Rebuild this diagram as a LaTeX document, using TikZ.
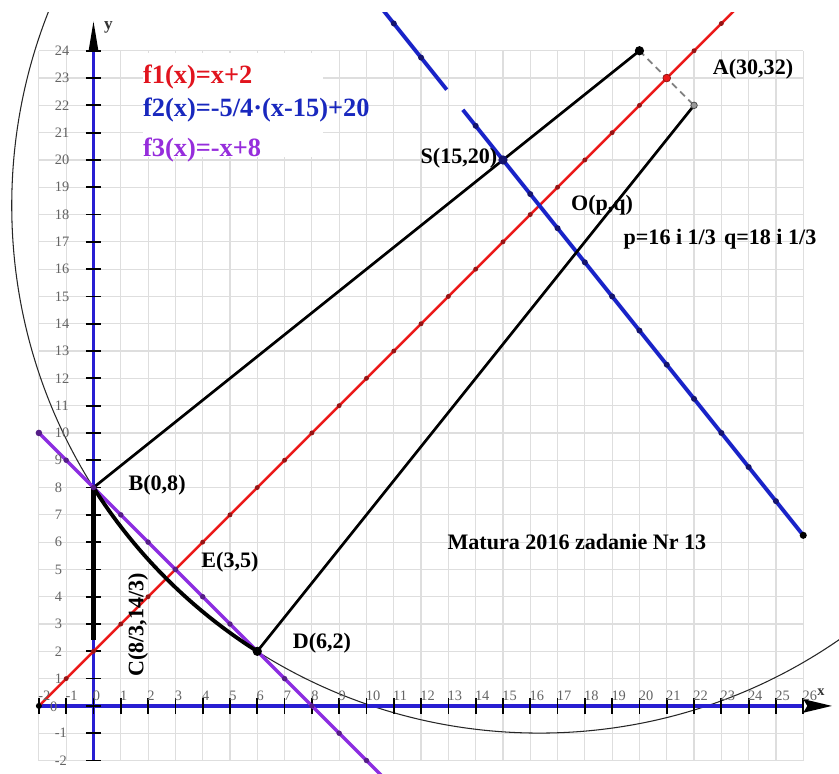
\documentclass[tikz,border=0pt]{standalone}
\usepackage{fontspec}
\setmainfont{Liberation Serif}
\definecolor{axblue}{RGB}{40,30,210}
\definecolor{fblue}{RGB}{25,35,200}
\definecolor{fred}{RGB}{235,25,25}
\definecolor{fpurple}{RGB}{140,45,225}
\definecolor{gridc}{RGB}{222,222,222}
\definecolor{numc}{RGB}{100,100,100}
\definecolor{dred}{RGB}{150,20,20}
\definecolor{dblue}{RGB}{20,20,110}
\definecolor{dpurple}{RGB}{85,30,135}
\definecolor{legred}{RGB}{225,20,30}
\definecolor{legblue}{RGB}{25,40,190}
\definecolor{legpurple}{RGB}{150,45,220}
\begin{document}
\begin{tikzpicture}[x=1cm,y=1cm,
  numlab/.style={font=\fontsize{15}{15}\selectfont, text=numc, inner sep=0pt},
  ptlab/.style={font=\fontsize{23}{23}\selectfont\bfseries, inner sep=0pt},
  leglab/.style={font=\fontsize{27.5}{27.5}\selectfont\bfseries, inner sep=0pt, anchor=west},
  tickmark/.style={black, line width=1.8pt},
  axline/.style={axblue, line width=4pt},
  blackline/.style={black, line width=2.8pt}
]
\useasboundingbox (-3.425,-2.49) rectangle (27.31,25.86);
\fill[white] (-3.425,-2.49) rectangle (27.31,25.86);
% named points
\coordinate (O) at (16.3333,18.3333);
\coordinate (B) at (0,8);
\coordinate (D) at (6,2);
\coordinate (S) at (15,20);
\coordinate (E) at (3,5);
\coordinate (P) at (20,24);
\coordinate (Q) at (22,22);
\coordinate (R) at (21,23);
\coordinate (Bend) at (0,2.4);
\coordinate (F2end) at (26,6.25);
% grid
\draw[gridc, line width=1.2pt] (-2,-2) grid (26,24);
\fill[white] (1.8,20.1) rectangle (8.4,23.93);
\begin{scope}
\clip (-3.425,-2.49) rectangle (27.31,25.4);
% circle
\draw[black!85, line width=1.1pt] (O) circle[radius=19.328];
% axes
\draw[axline] (-2,0) -- (26,0);
\draw[axline] (0,-2) -- (0,24);
\foreach \i in {-2,...,26} \draw[tickmark] (\i,-0.28) -- (\i,0.28);
\foreach \j in {-2,...,24} \draw[tickmark] (-0.28,\j) -- (0.28,\j);
% functions
\draw[fred, line width=2.6pt] (-2,0) -- (24,26);
\draw[fpurple, line width=3.6pt] (-2,10) -- (10.7,-2.7);
\draw[fblue, line width=4pt] (10.2,26) -- (12.94,22.575);
\draw[fblue, line width=4pt] (13.53,21.8375) -- (F2end);
% black figure
\draw[black, line width=5pt] (B) -- (Bend);
\draw[black, line width=4pt] (B) arc[start angle=212.322, end angle=237.678, radius=19.328];
\draw[blackline] (B) -- (P);
\draw[blackline] (D) -- (Q);
\draw[gray, line width=1.8pt, dash pattern=on 7pt off 5pt] (P) -- (Q);
% dots
\foreach \i in {-1,...,23} \fill[dred] (\i,\i+2) circle[radius=0.09];
\fill[black] (-2,0) circle[radius=0.11];
\foreach \i in {-1,...,10} \fill[dpurple] (\i,8-\i) circle[radius=0.1];
\fill[dpurple] (-2,10) circle[radius=0.12];
\foreach \i in {11,12,14,16,17,18,19,20,21,22,23,24,25} \fill[dblue] (\i,-1.25*\i+38.75) circle[radius=0.11];
\fill[dblue] (S) circle[radius=0.17];
\fill[black] (F2end) circle[radius=0.13];
\fill[black] (D) circle[radius=0.17];
\fill[black] (P) circle[radius=0.17];
\filldraw[fill=gray!80, draw=black!70, line width=0.8pt] (Q) circle[radius=0.12];
\filldraw[fill=fred, draw=dred, line width=0.8pt] (R) circle[radius=0.14];
\end{scope}
% arrow heads
\fill[black] (26,0.25) -- (27.05,0) -- (26,-0.25) -- (26.15,0) -- cycle;
\fill[black] (-0.18,24) -- (0,25.07) -- (0.18,24) -- cycle;
% axis numbers
\foreach \i in {-2,...,26} \node[numlab, anchor=south west] (nx\i) at (\i-0.03,0.2) {\i};
\foreach \j in {-2,-1,1,2,3,4,5,6,7,8,9,10,11,12,13,14,15,16,17,18,19,20,21,22,23,24} \node[numlab, anchor=west] (ny\j) at (-1.42,\j) {\j};
\node[numlab, anchor=west] (ny0) at (-1.6,-0.05) {0};
\node[font=\fontsize{18}{18}\selectfont\bfseries, text=black!80, inner sep=0pt] (ylab) at (0.55,24.85) {y};
\node[font=\fontsize{15}{15}\selectfont\bfseries, text=black!80, inner sep=0pt] (xlab) at (26.65,0.5) {x};
% legend
\node[leglab, text=legred] (f1) at (1.81,23.04) {f1(x)=x+2};
\node[leglab, text=legblue] (f2) at (1.81,21.83) {f2(x)=-5/4·(x-15)+20};
\node[leglab, text=legpurple] (f3) at (1.81,20.37) {f3(x)=-x+8};
% point labels
\node[ptlab] (lB) at (2.33,8.10) {B(0,8)};
\node[ptlab] (lE) at (5.0,5.27) {E(3,5)};
\node[ptlab] (lD) at (8.37,2.31) {D(6,2)};
\node[ptlab, rotate=90] (lC) at (1.63,2.97) {C(8/3,14/3)};
\node[ptlab] (lS) at (13.39,20.07) {S(15,20)};
\node[ptlab] (lO) at (18.63,18.35) {O(p,q)};
\node[ptlab] (lA) at (24.16,23.33) {A(30,32)};
\node[ptlab] (lpq) at (22.95,17.11) {p=16 i 1/3\hspace{0.12em} q=18 i 1/3};
\node[ptlab] (lM) at (17.71,6.0) {Matura 2016 zadanie Nr 13};
\end{tikzpicture}
\end{document}
